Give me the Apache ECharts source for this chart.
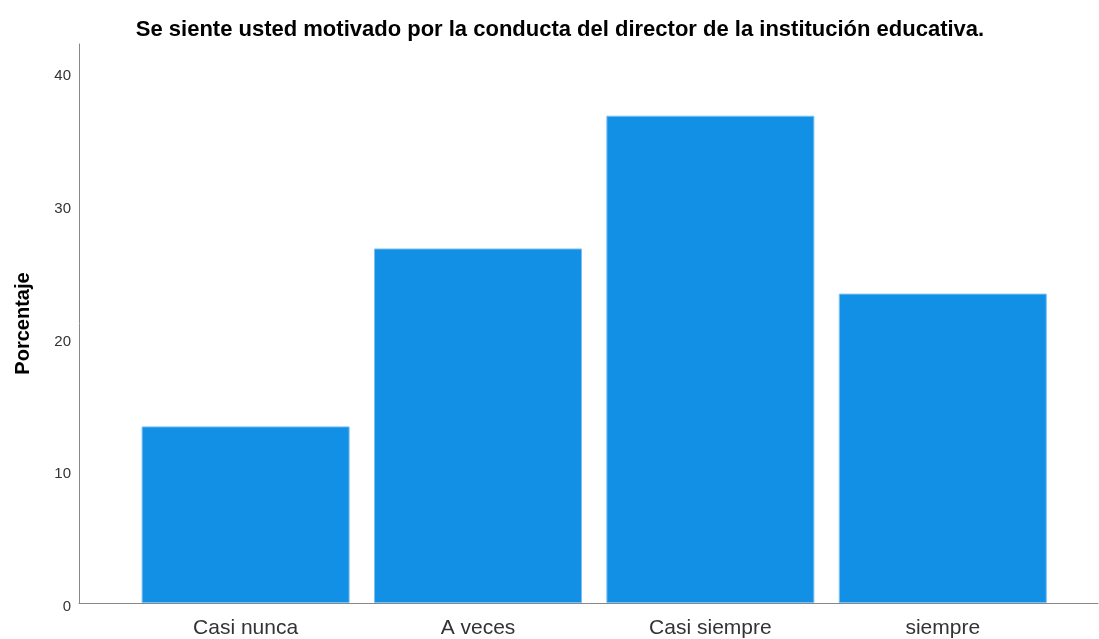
<!DOCTYPE html>
<html>
<head>
<meta charset="utf-8">
<script src="https://cdn.jsdelivr.net/npm/echarts@6/dist/echarts.min.js"></script>
<style>
html, body { margin: 0; padding: 0; background: #fff; }
#chart { width: 1099px; height: 639px; }
</style>
</head>
<body>
<div id="chart"></div>
<script>
// datos
var categorias = ['Casi nunca', 'A veces', 'Casi siempre', 'siempre'];
var porcentajes = [13.3, 26.7, 36.7, 23.3];
var ticksY = [0, 10, 20, 30, 40];

var barData = [];
for (var i = 0; i < porcentajes.length; i++) {
    barData.push([i, porcentajes[i]]);
}

var myChart = echarts.init(document.getElementById('chart'));

var option = {
    animation: false,
    title: {
        text: 'Se siente usted motivado por la conducta del director de la institución educativa.',
        left: 555,
        textAlign: 'center',
        top: 14,
        textStyle: {
            fontFamily: 'Liberation Sans',
            fontSize: 22,
            fontWeight: 'bold',
            color: '#000'
        }
    },
    grid: {
        left: 79,
        right: 1,
        top: 44,
        bottom: 35
    },
    xAxis: {
        type: 'value',
        min: -0.717,
        max: 3.668,
        splitLine: { show: false },
        axisTick: { show: false },
        axisLine: {
            show: true,
            onZero: false,
            lineStyle: { color: '#888', width: 1 }
        },
        axisLabel: {
            customValues: [0, 1, 2, 3],
            formatter: function (v) { return categorias[Math.round(v)]; },
            fontFamily: 'Liberation Sans',
            fontSize: 21,
            color: '#333',
            margin: 15
        }
    },
    yAxis: {
        type: 'value',
        min: 0,
        max: 42.1,
        interval: 10,
        name: 'Porcentaje',
        nameLocation: 'middle',
        nameGap: 46,
        nameRotate: 90,
        nameTextStyle: {
            fontFamily: 'Liberation Sans',
            fontSize: 20,
            fontWeight: 'bold',
            color: '#000'
        },
        splitLine: { show: false },
        axisTick: { show: false },
        axisLine: {
            show: true,
            onZero: false,
            lineStyle: { color: '#888', width: 1 }
        },
        axisLabel: {
            customValues: ticksY,
            formatter: function (v) { return '{t|' + v + '}'; },
            margin: 8,
            rich: {
                t: {
                    fontFamily: 'Liberation Sans',
                    fontSize: 15,
                    color: '#333',
                    padding: [8, 0, 0, 0]
                }
            }
        }
    },
    series: [{
        type: 'bar',
        data: barData,
        barWidth: 208,
        itemStyle: {
            color: '#1290e6',
            borderColor: '#7cc0f2',
            borderWidth: 1
        }
    }]
};

myChart.setOption(option);
</script>
</body>
</html>
